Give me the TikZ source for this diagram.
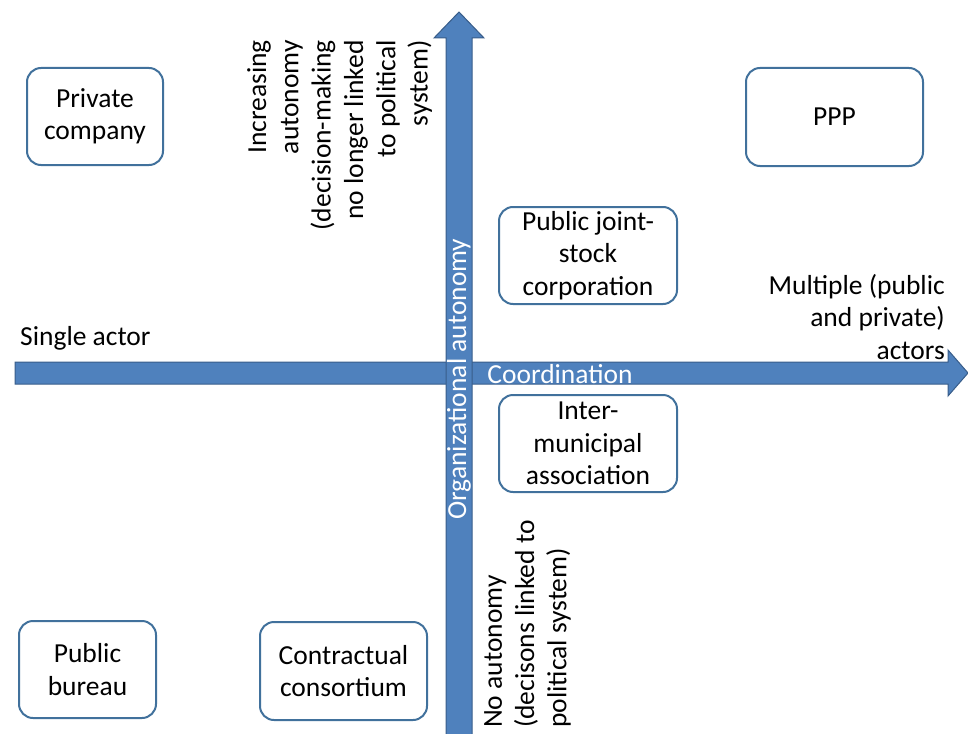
\documentclass[tikz,border=0pt]{standalone}
\usepackage{xcolor}
\usepackage{fontspec}
\setmainfont{Carlito}
\usepackage{tikz}
\definecolor{arrowfill}{RGB}{79,129,189}
\definecolor{arrowline}{RGB}{56,93,138}
\definecolor{boxline}{RGB}{65,113,156}
\begin{document}
\begin{tikzpicture}[x=1pt,y=-1pt,
				every node/.style={font=\fontsize{27.5}{32.3}\selectfont},
				actor/.style={draw=boxline,line width=2pt,rounded corners=14pt,fill=white,align=center,inner sep=0pt},
				bigarrow/.style={fill=arrowfill,draw=arrowline,line width=1pt,line join=miter},
				axislabel/.style={text=white,inner sep=0pt}]
				
				\useasboundingbox (0,0) rectangle (968,733);
				
				% Coordination axis
				\draw[bigarrow] (15,362) -- (948,362) -- (948,350) -- (968,373) -- (948,396) -- (948,384) -- (15,384) -- cycle;
				
				% Autonomy axis
				\draw[bigarrow] (446,740) -- (446,38) -- (434,38) -- (459,12) -- (484,38) -- (472,38) -- (472,740) -- cycle;
				
				% Axis labels
				\node[axislabel,rotate=90] (orgaut) at (459,379) {Organizational autonomy};
				\node[axislabel] (coord) at (560,374) {Coordination};
				
				\node[inner sep=0pt,anchor=west] (single) at (20,338) {Single actor};
				\node[inner sep=0pt,anchor=east,align=right] (multiple) at (945,317) {Multiple (public\\and private)\\actors};
				\node[inner sep=0pt,rotate=90,anchor=north east,align=right] (incaut) at (247,40)
				{Increasing\\autonomy\\(decision-making\\no longer linked\\to political\\system)};
				\node[inner sep=0pt,rotate=90,anchor=north west,align=left] (noaut) at (484,728)
				{No autonomy\\(decisons linked to\\political system)};
				
				% Organizational forms
				\node[actor,minimum width=136,minimum height=97] (private) at (95,116.5) {Private\\company};
				\node[actor,minimum width=177,minimum height=98] (ppp) at (834.5,117) {PPP};
				\node[actor,minimum width=178,minimum height=97] (jointstock) at (588,255.5) {Public joint-\\stock\\corporation};
				\node[actor,minimum width=178,minimum height=97] (intermun) at (588,443.5) {Inter-\\municipal\\association};
				\node[actor,minimum width=137,minimum height=97] (bureau) at (87.5,669.5) {Public\\bureau};
				\node[actor,minimum width=167,minimum height=98] (consortium) at (343.5,671) {Contractual\\consortium};
			\end{tikzpicture}
\end{document}
